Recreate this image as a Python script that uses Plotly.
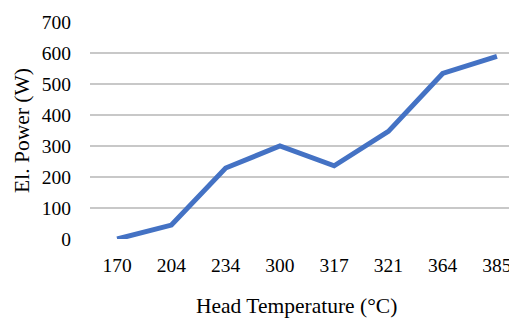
import plotly.graph_objects as go

temperatures = ["170", "204", "234", "300", "317", "321", "364", "385"]
power = [0, 45, 229, 300, 236, 347, 534, 589]
y_ticks = [0, 100, 200, 300, 400, 500, 600, 700]
x_title = "Head Temperature (°C)"
y_title = "El. Power (W)"

fig = go.Figure()
fig.add_trace(go.Scatter(
    x=temperatures, y=power, mode="lines",
    line=dict(color="#4472C4", width=5, shape="linear"),
    hoverinfo="skip", showlegend=False, cliponaxis=False,
))

tick_font = dict(family="Liberation Serif", size=19.5, color="#000000")
title_font = dict(family="Liberation Serif", size=21.5, color="#000000")

# the page body has an 8px margin, so the figure is sized 8px smaller
fig.update_layout(
    width=509, height=310,
    margin=dict(l=82, r=0, t=14, b=79, autoexpand=False),
    paper_bgcolor="white", plot_bgcolor="white",
    font=tick_font,
    xaxis=dict(
        type="category", range=[-0.5, 7.37], automargin=False,
        showgrid=False, showline=False, zeroline=False,
        ticks="", ticklabelstandoff=12,
        tickfont=tick_font,
    ),
    yaxis=dict(
        range=[0, 700], tickvals=y_ticks, automargin=False,
        showgrid=True, gridcolor="#C8C8C8", gridwidth=1.5,
        zeroline=False, showline=False, ticks="",
        ticklabelstandoff=18,
        title=dict(text=y_title, font=title_font, standoff=6),
        tickfont=tick_font,
    ),
    annotations=[dict(
        text=x_title, xref="paper", yref="paper",
        x=0.4825, y=-0.31, xanchor="center", yanchor="middle",
        showarrow=False, font=title_font,
    )],
)

fig.write_html("out.html")
